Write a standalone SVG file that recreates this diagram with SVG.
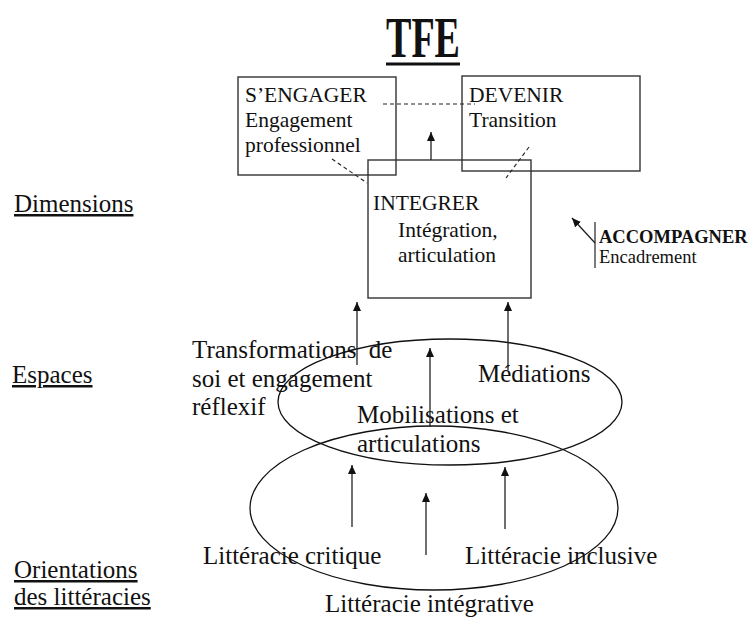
<svg xmlns="http://www.w3.org/2000/svg" width="753" height="618" viewBox="0 0 753 618">
<style>
text{font-family:"Liberation Serif","Times New Roman",serif;fill:#111;}
.t25{font-size:25px;}
.t21{font-size:21.5px;}
.t18{font-size:18.5px;}
.lab{font-size:25px;text-decoration:underline;}
.box{fill:none;stroke:#333;stroke-width:1.4;}
.ell{fill:none;stroke:#111;stroke-width:1.3;}
.arr{stroke:#222;stroke-width:1.3;fill:none;marker-end:url(#ah);}
.dash{stroke:#222;stroke-width:1.1;stroke-dasharray:4 3;fill:none;}
</style>
<defs>
<marker id="ah" markerUnits="userSpaceOnUse" markerWidth="9" markerHeight="8" refX="9" refY="4" orient="auto">
<path d="M0,0 L9,4 L0,8 z" fill="#111"/>
</marker>
</defs>
<rect width="753" height="618" fill="#fff"/>
<g id="title">
<text x="386" y="57" font-size="56" font-weight="bold" textLength="74" lengthAdjust="spacingAndGlyphs">TFE</text>
<rect x="386" y="62.5" width="74" height="3" fill="#111"/>
</g>
<g id="labels">
<text class="lab" x="14" y="212">Dimensions</text>
<text class="lab" x="12" y="383">Espaces</text>
<text class="lab" x="14" y="578">Orientations</text>
<text class="lab" x="14" y="605">des littéracies</text>
</g>
<g id="node-sengager">
<rect class="box" x="238" y="77" width="158" height="98"/>
<text class="t21" x="245" y="102">S’ENGAGER</text>
<text class="t21" x="245" y="127">Engagement</text>
<text class="t21" x="245" y="152">professionnel</text>
</g>
<g id="node-devenir">
<rect class="box" x="462" y="76" width="178" height="95"/>
<text class="t21" x="469" y="102">DEVENIR</text>
<text class="t21" x="469" y="127">Transition</text>
</g>
<g id="node-integrer">
<rect class="box" x="368" y="160" width="163" height="138"/>
<text class="t21" x="373" y="210">INTEGRER</text>
<text class="t21" x="398" y="237">Intégration,</text>
<text class="t21" x="398" y="262">articulation</text>
</g>
<g id="node-accompagner">
<line x1="595" y1="222" x2="595" y2="268" stroke="#333" stroke-width="1.3"/>
<text class="t18" x="599" y="243" font-weight="bold">ACCOMPAGNER</text>
<text class="t18" x="599" y="263">Encadrement</text>
</g>
<g id="node-espaces">
<ellipse class="ell" cx="450" cy="402" rx="172" ry="63"/>
<text class="t25" x="192" y="358" xml:space="preserve">Transformations  de</text>
<text class="t25" x="192" y="387">soi et engagement</text>
<text class="t25" x="192" y="415">réflexif</text>
<text class="t25" x="478" y="382">Médiations</text>
<text class="t25" x="357" y="423">Mobilisations et</text>
<text class="t25" x="357" y="452">articulations</text>
</g>
<g id="node-litteracies">
<ellipse class="ell" cx="434" cy="508" rx="184" ry="82"/>
<text class="t25" x="203" y="564">Littéracie critique</text>
<text class="t25" x="465" y="564">Littéracie inclusive</text>
<text class="t25" x="325" y="612">Littéracie intégrative</text>
</g>
<g id="connectors">
<line class="arr" x1="431" y1="160" x2="431" y2="132"/>
<line class="arr" x1="357" y1="365" x2="357" y2="302"/>
<line class="arr" x1="508" y1="370" x2="508" y2="302"/>
<line class="arr" x1="430" y1="427" x2="430" y2="348"/>
<line class="arr" x1="352" y1="527" x2="352" y2="465"/>
<line class="arr" x1="505" y1="529" x2="505" y2="467"/>
<line class="arr" x1="426" y1="555" x2="426" y2="493"/>
<line class="arr" x1="595" y1="243" x2="572" y2="218"/>
<line class="dash" x1="383" y1="104" x2="475" y2="104"/>
<line class="dash" x1="332" y1="159" x2="367" y2="183"/>
<line class="dash" x1="529" y1="147" x2="506" y2="178"/>
</g>
</svg>
